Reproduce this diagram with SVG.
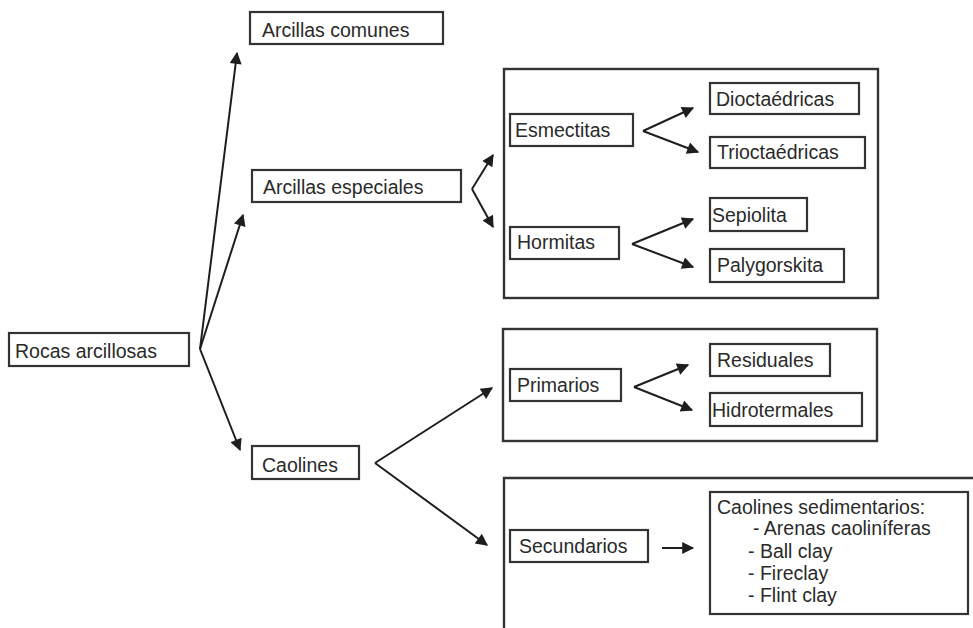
<svg xmlns="http://www.w3.org/2000/svg" width="973" height="628" viewBox="0 0 973 628">
<defs>
<style>
.box{fill:#fff;stroke:#333;stroke-width:2.2}
.frame{fill:none;stroke:#333;stroke-width:2.4}
.t{font-family:"Liberation Sans",Arial,sans-serif;font-size:19.5px;fill:#2a2a2a}
.c{fill:none;stroke:#1e1e1e;stroke-width:2;marker-end:url(#ah)}
</style>
<marker id="ah" viewBox="0 0 10 10" refX="9" refY="5" markerWidth="17" markerHeight="12" markerUnits="userSpaceOnUse" orient="auto">
<path d="M0,0 L10,5 L0,10 z" fill="#1e1e1e"/>
</marker>
</defs>
<rect width="973" height="628" fill="#fff"/>

<g id="frame-especiales"><rect class="frame" x="504" y="69" width="374" height="229"/></g>
<g id="frame-primarios"><rect class="frame" x="503" y="329" width="374" height="112"/></g>
<g id="frame-secundarios"><path class="frame" d="M504,628 V478 H975"/></g>

<g id="rocas"><rect class="box" x="9" y="333" width="180" height="33"/><text class="t" x="15" y="358">Rocas arcillosas</text></g>
<g id="comunes"><rect class="box" x="250" y="12" width="193" height="32"/><text class="t" x="262" y="37">Arcillas comunes</text></g>
<g id="especiales"><rect class="box" x="252" y="170" width="209" height="32"/><text class="t" x="263" y="194">Arcillas especiales</text></g>
<g id="caolines"><rect class="box" x="252" y="446" width="107" height="33"/><text class="t" x="262" y="472">Caolines</text></g>
<g id="esmectitas"><rect class="box" x="510" y="114" width="123" height="32"/><text class="t" x="515" y="137">Esmectitas</text></g>
<g id="hormitas"><rect class="box" x="510" y="227" width="109" height="32"/><text class="t" x="517" y="249">Hormitas</text></g>
<g id="dioctaedricas"><rect class="box" x="710" y="83" width="149" height="31"/><text class="t" x="716" y="106">Dioctaédricas</text></g>
<g id="trioctaedricas"><rect class="box" x="710" y="137" width="155" height="31"/><text class="t" x="717" y="159">Trioctaédricas</text></g>
<g id="sepiolita"><rect class="box" x="710" y="198" width="97" height="33"/><text class="t" x="712" y="222">Sepiolita</text></g>
<g id="palygorskita"><rect class="box" x="710" y="249" width="134" height="33"/><text class="t" x="717" y="272">Palygorskita</text></g>
<g id="primarios"><rect class="box" x="510" y="369" width="111" height="32"/><text class="t" x="517" y="392">Primarios</text></g>
<g id="residuales"><rect class="box" x="710" y="344" width="120" height="32"/><text class="t" x="717" y="367">Residuales</text></g>
<g id="hidrotermales"><rect class="box" x="710" y="393" width="152" height="33"/><text class="t" x="712" y="417">Hidrotermales</text></g>
<g id="secundarios"><rect class="box" x="510" y="530" width="138" height="32"/><text class="t" x="519" y="553">Secundarios</text></g>
<g id="sedimentarios"><rect class="box" x="710" y="492" width="258" height="122"/>
<text class="t" x="717" y="514">Caolines sedimentarios:</text>
<text class="t" x="753" y="535">- Arenas caoliníferas</text>
<text class="t" x="748" y="558">- Ball clay</text>
<text class="t" x="748" y="580">- Fireclay</text>
<text class="t" x="748" y="602">- Flint clay</text>
</g>

<g id="connectors">
<path class="c" d="M200,349 L237,53"/>
<path class="c" d="M200,349 L243,215"/>
<path class="c" d="M200,349 L240,450"/>
<path class="c" d="M472,189 L493,155"/>
<path class="c" d="M472,189 L493,227"/>
<path class="c" d="M643,131 L693,108"/>
<path class="c" d="M643,131 L698,152"/>
<path class="c" d="M632,244 L693,219"/>
<path class="c" d="M632,244 L693,267"/>
<path class="c" d="M375,463 L492,388"/>
<path class="c" d="M375,463 L487,545"/>
<path class="c" d="M634,387 L688,365"/>
<path class="c" d="M634,387 L692,410"/>
<path class="c" d="M662,548 L693,548"/>
</g>
</svg>
